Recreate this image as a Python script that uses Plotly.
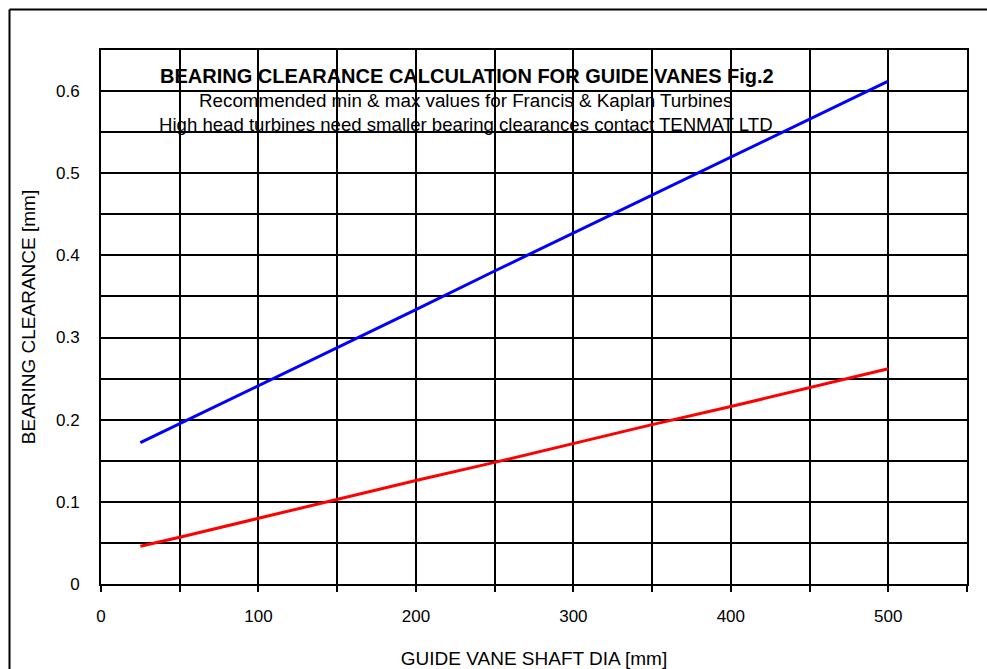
import plotly.graph_objects as go

shaft_dia = [25, 50, 100, 150, 200, 250, 300, 350, 400, 450, 500]
max_clearance = [0.172, 0.195, 0.241, 0.288, 0.334, 0.381, 0.427, 0.473, 0.519, 0.566, 0.612]
min_clearance = [0.046, 0.057, 0.080, 0.103, 0.126, 0.148, 0.171, 0.194, 0.216, 0.239, 0.262]

title_main = "BEARING CLEARANCE CALCULATION FOR GUIDE VANES Fig.2"
title_sub1 = "Recommended min & max values for Francis & Kaplan Turbines"
title_sub2 = "High head turbines need smaller bearing clearances contact TENMAT LTD"
x_title = "GUIDE VANE SHAFT DIA [mm]"
y_title = "BEARING CLEARANCE [mm]"

FONT = "Liberation Sans, Arial, sans-serif"

fig = go.Figure()
fig.add_trace(go.Scatter(x=shaft_dia, y=max_clearance, mode="lines",
                         line=dict(color="#0000ff", width=3), name="max"))
fig.add_trace(go.Scatter(x=shaft_dia, y=min_clearance, mode="lines",
                         line=dict(color="#ff0000", width=3), name="min"))

# the page's body margin is removed below, so figure pixels = page pixels
W, H = 987, 669
PL, PR, PT, PB = 101, 967, 50, 584  # plot area in page pixels
L, R, T, B = PL, W - PR, PT, H - PB
pw, ph = PR - PL, PB - PT

def px_x(p):
    return (p - PL) / pw

def px_y(p):
    return (PB - p) / ph

fig.update_layout(
    width=W, height=H,
    margin=dict(l=L, r=R, t=T, b=B, autoexpand=False),
    paper_bgcolor="white", plot_bgcolor="white",
    showlegend=False,
    font=dict(family=FONT, size=17, color="black"),
    xaxis=dict(
        range=[0, 550], dtick=100, tick0=0, automargin=False,
        showgrid=True, gridcolor="black", gridwidth=2,
        ticks="outside", ticklen=6, tickwidth=2, tickcolor="black",
        minor=dict(dtick=50, tick0=0, showgrid=True, gridcolor="black", gridwidth=2,
                   ticks="outside", ticklen=6, tickwidth=2, tickcolor="black"),
        showline=True, linecolor="black", linewidth=2, mirror=True,
        zeroline=False, ticklabelstandoff=10,
        tickfont=dict(size=17),
        title=dict(text=x_title, font=dict(size=19), standoff=26),
    ),
    yaxis=dict(
        range=[0, 0.65], dtick=0.1, tick0=0, automargin=False,
        showgrid=True, gridcolor="black", gridwidth=2,
        ticks="",
        minor=dict(dtick=0.05, tick0=0, showgrid=True, gridcolor="black", gridwidth=2),
        showline=True, linecolor="black", linewidth=2, mirror=True,
        zeroline=False, ticklabelstandoff=16,
        tickfont=dict(size=17),
        title=dict(text=y_title, font=dict(size=19), standoff=15),
    ),
    annotations=[
        dict(text="<b>" + title_main + "</b>", x=px_x(467), y=px_y(76), xref="paper", yref="paper",
             showarrow=False, font=dict(size=20), xanchor="center", yanchor="middle"),
        dict(text=title_sub1, x=px_x(465), y=px_y(100), xref="paper", yref="paper",
             showarrow=False, font=dict(size=18.8), xanchor="center", yanchor="middle"),
        dict(text=title_sub2, x=px_x(466), y=px_y(124), xref="paper", yref="paper",
             showarrow=False, font=dict(size=18.6), xanchor="center", yanchor="middle"),
    ],
    shapes=[
        dict(type="line", xref="paper", yref="paper",
             x0=px_x(9.5), x1=px_x(1000), y0=px_y(9.5), y1=px_y(9.5),
             line=dict(color="black", width=2), layer="below"),
        dict(type="line", xref="paper", yref="paper",
             x0=px_x(9.5), x1=px_x(9.5), y0=px_y(9.5), y1=px_y(700),
             line=dict(color="black", width=2), layer="below"),
    ],
)

fig.write_html(
    "out.html",
    config={"displayModeBar": False},
    post_script=(
        "document.body.style.margin='0';"
        "document.body.style.overflow='hidden';"
        "document.documentElement.style.overflow='hidden';"
    ),
)
